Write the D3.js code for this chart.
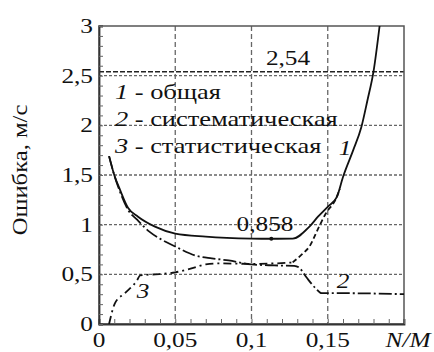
<!DOCTYPE html>
<html>
<head>
<meta charset="utf-8">
<script src="https://cdnjs.cloudflare.com/ajax/libs/d3/7.8.5/d3.min.js"></script>
<style>
  body { margin: 0; background: #fff; }
</style>
</head>
<body>
<div id="chart"></div>
<script>
// data
var xTicks = [0, 0.05, 0.1, 0.15];
var xTickLabels = ["0", "0,05", "0,1", "0,15"];
var yTicks = [0, 0.5, 1, 1.5, 2, 2.5, 3];
var yTickLabels = ["0", "0,5", "1", "1,5", "2", "2,5", "3"];

// 1 - total
var totalX = [0.0066, 0.01, 0.0138, 0.019, 0.0256, 0.0367, 0.05, 0.07, 0.1, 0.113, 0.127, 0.138, 0.1436, 0.15, 0.156, 0.16, 0.1667, 0.172, 0.176, 0.18, 0.184];
var totalY = [1.69, 1.5, 1.35, 1.17, 1.08, 0.98, 0.91, 0.88, 0.86, 0.858, 0.86, 0.98, 1.08, 1.18, 1.28, 1.48, 1.75, 1.98, 2.25, 2.54, 3.0];

// 2 - systematic
var systX = [0.0066, 0.01, 0.0138, 0.019, 0.025, 0.033, 0.041, 0.05, 0.063, 0.074, 0.085, 0.1, 0.115, 0.128, 0.131, 0.136, 0.142, 0.146, 0.16, 0.2];
var systY = [1.69, 1.5, 1.33, 1.15, 1.05, 0.93, 0.85, 0.78, 0.69, 0.66, 0.64, 0.6, 0.59, 0.585, 0.57, 0.47, 0.36, 0.31, 0.31, 0.3];

// 3 - statistical
var statX = [0.0066, 0.0105, 0.017, 0.025, 0.027, 0.037, 0.05, 0.063, 0.07, 0.08, 0.1, 0.115, 0.127, 0.133, 0.138, 0.144, 0.149, 0.155, 0.158];
var statY = [0, 0.21, 0.31, 0.44, 0.49, 0.5, 0.52, 0.57, 0.6, 0.61, 0.605, 0.61, 0.62, 0.7, 0.78, 0.97, 1.12, 1.25, 1.36];

var minX = 0.113, minY = 0.858;
var limitY = 2.54;

var FONT = "'Liberation Serif', 'Times New Roman', Times, serif";

function chart() {
    var width = 434, height = 352;
    var padLeft = 99, padRight = 404, padTop = 26, padBottom = 324;

    var svg = d3.select("#chart").append("svg")
        .attr("width", width)
        .attr("height", height);

    var x = d3.scaleLinear().domain([0, 0.2]).range([padLeft, padRight]);
    var y = d3.scaleLinear().domain([0, 3]).range([padBottom, padTop]);

    // grid
    svg.append("g").selectAll("line")
        .data(yTicks.filter(function(d) { return d > 0 && d < 3; }))
        .enter().append("line")
        .attr("x1", padLeft).attr("x2", padRight)
        .attr("y1", function(d) { return y(d); })
        .attr("y2", function(d) { return y(d); })
        .attr("stroke", "#666").attr("stroke-width", 1.3)
        .attr("stroke-dasharray", "3,2");

    svg.append("g").selectAll("line")
        .data(xTicks.filter(function(d) { return d > 0; }))
        .enter().append("line")
        .attr("y1", padTop).attr("y2", padBottom)
        .attr("x1", function(d) { return x(d); })
        .attr("x2", function(d) { return x(d); })
        .attr("stroke", "#666").attr("stroke-width", 1.3)
        .attr("stroke-dasharray", "5,3");

    // 2.54 level
    svg.append("line")
        .attr("x1", padLeft).attr("x2", padRight)
        .attr("y1", y(limitY)).attr("y2", y(limitY))
        .attr("stroke", "#222").attr("stroke-width", 1.4)
        .attr("stroke-dasharray", "5,2");

    // frame
    svg.append("rect")
        .attr("x", padLeft).attr("y", padTop)
        .attr("width", padRight - padLeft).attr("height", padBottom - padTop)
        .attr("fill", "none").attr("stroke", "#555").attr("stroke-width", 1.5);

    // minor ticks, inside
    var xAxis = d3.axisBottom(x).tickValues(d3.range(0, 0.2001, 0.01)).tickSize(-5).tickFormat("");
    var yAxis = d3.axisLeft(y).tickValues(d3.range(0, 3.001, 0.1)).tickSize(-4).tickFormat("");
    var gx = svg.append("g").attr("transform", "translate(0," + padBottom + ")").call(xAxis);
    var gy = svg.append("g").attr("transform", "translate(" + padLeft + ",0)").call(yAxis);
    [gx, gy].forEach(function(g) {
        g.select(".domain").attr("stroke", "#333").attr("stroke-width", 1.8);
        g.selectAll(".tick line").attr("stroke", "#666").attr("stroke-width", 1);
    });

    // text helper (the original type is a bit wide)
    function label(txt, px, py, anchor, size, italic) {
        return svg.append("text")
            .attr("transform", "translate(" + px + "," + py + ") scale(1.15,1)")
            .attr("text-anchor", anchor || "start")
            .attr("font-family", FONT)
            .attr("fill", "#111")
            .style("font-size", (size || 22) + "px")
            .style("font-style", italic ? "italic" : "normal")
            .text(txt);
    }

    yTicks.forEach(function(d, i) {
        label(yTickLabels[i], padLeft - 6, y(d) + 7, "end");
    });
    xTicks.forEach(function(d, i) {
        label(xTickLabels[i], x(d), padBottom + 23, "middle");
    });
    label("N/M", 408, padBottom + 23, "middle", 22, true);

    svg.append("text")
        .attr("transform", "translate(27,170) rotate(-90) scale(1.12,1)")
        .attr("text-anchor", "middle")
        .attr("font-family", FONT)
        .attr("fill", "#111")
        .style("font-size", "22px")
        .text("Ошибка, м/с");

    // curves
    var line = d3.line()
        .x(function(d) { return x(d[0]); })
        .y(function(d) { return y(d[1]); })
        .curve(d3.curveMonotoneX);

    function pairs(xs, ys) {
        return xs.map(function(v, i) { return [v, ys[i]]; });
    }

    svg.append("clipPath").attr("id", "plot")
        .append("rect").attr("x", padLeft).attr("y", padTop)
        .attr("width", padRight - padLeft).attr("height", padBottom - padTop);

    var plot = svg.append("g").attr("clip-path", "url(#plot)");

    var stat = pairs(statX, statY);
    var split = statX.indexOf(0.127);

    plot.append("path").datum(pairs(systX, systY))
        .attr("d", line).attr("fill", "none")
        .attr("stroke", "#111").attr("stroke-width", 1.8)
        .attr("stroke-dasharray", "13,3,2,3");

    plot.append("path").datum(stat.slice(0, split + 1))
        .attr("d", line).attr("fill", "none")
        .attr("stroke", "#111").attr("stroke-width", 1.8)
        .attr("stroke-dasharray", "8,4,2,4");

    plot.append("path").datum(stat.slice(split))
        .attr("d", line).attr("fill", "none")
        .attr("stroke", "#111").attr("stroke-width", 1.8)
        .attr("stroke-dasharray", "5,3");

    plot.append("path").datum(pairs(totalX, totalY))
        .attr("d", line).attr("fill", "none")
        .attr("stroke", "#111").attr("stroke-width", 1.8);

    plot.append("circle")
        .attr("cx", x(minX)).attr("cy", y(minY)).attr("r", 2)
        .attr("fill", "#111");

    // annotations
    label("2,54", 288, 65, "middle", 22);
    label("0,858", 265, 231, "middle", 22);
    label("1", 345, 155, "middle", 22, true);
    label("2", 343, 288, "middle", 22, true);
    label("3", 143, 298, "middle", 22, true);

    // legend
    var legend = [["1", " - общая"], ["2", " - систематическая"], ["3", " - статистическая"]];
    legend.forEach(function(d, i) {
        var t = svg.append("text")
            .attr("transform", "translate(115," + (99 + i * 27) + ") scale(1.2,1)")
            .attr("font-family", FONT)
            .attr("fill", "#111")
            .style("font-size", "22px");
        t.append("tspan").style("font-style", "italic").text(d[0]);
        t.append("tspan").text(d[1]);
    });
}

chart();
</script>
</body>
</html>
